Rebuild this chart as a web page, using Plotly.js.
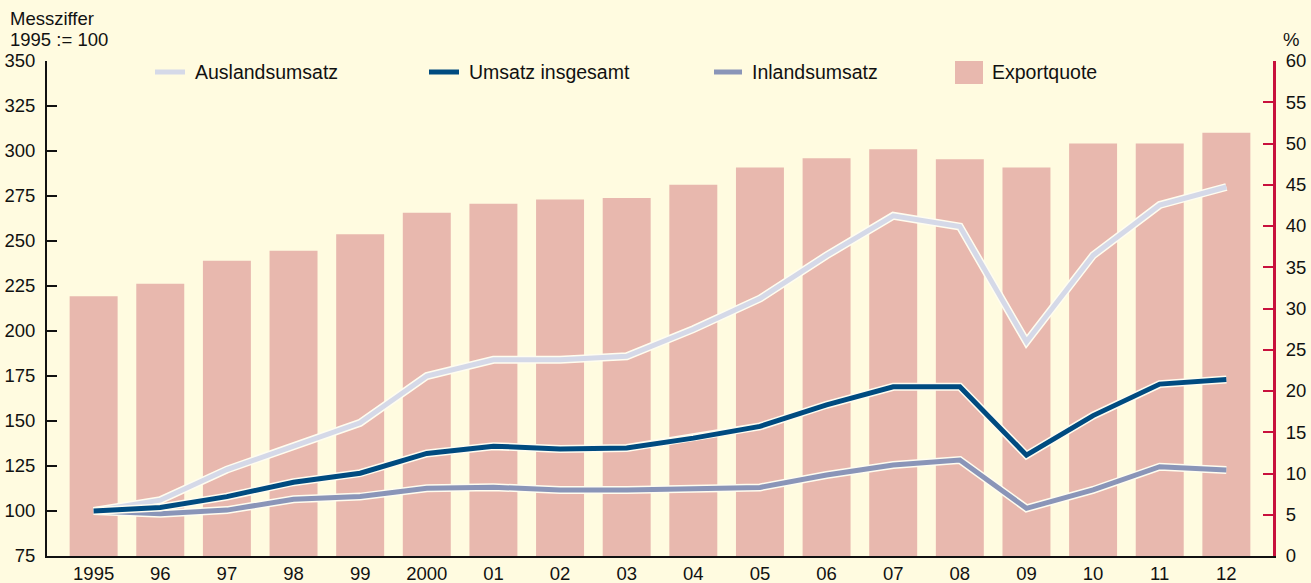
<!DOCTYPE html>
<html>
<head>
<meta charset="utf-8">
<script src="https://cdn.plot.ly/plotly-3.0.1.min.js"></script>
<style>html,body{margin:0;padding:0;background:#fffbe0;}#chart{width:1311px;height:583px;}</style>
</head>
<body>
<div id="chart"></div>
<script>
const years = ['1995','96','97','98','99','2000','01','02','03','04','05','06','07','08','09','10','11','12'];
const exportquote = [31.5,33.0,35.8,37.0,39.0,41.6,42.7,43.2,43.4,45.0,47.1,48.2,49.3,48.1,47.1,50.0,50.0,51.3];
const auslandsumsatz = [100,106,123,136,149,175,184,184,186,201,218,242,264,258,194,242,270,280];
const umsatzInsgesamt = [100,102,108,116,121,132,136,134.5,135,140.5,147,159,169,169,131,153,170.5,173];
const inlandsumsatz = [100,98.5,100.5,106.5,108,112.6,113.2,111.7,111.7,112.6,113.1,120,125.6,128.3,101.5,111.7,124.6,122.8];
const leftTicks = [75,100,125,150,175,200,225,250,275,300,325,350];
const rightTicks = [0,5,10,15,20,25,30,35,40,45,50,55,60];

const BG = '#fffbe0';
const HALO = '#fffdf0';
const C_AUS = '#d5d9e8';
const C_UMS = '#004b80';
const C_INL = '#8a95b8';
const C_BAR = '#e8b8ae';
const C_RED = '#c8103c';

function lineTraces(y, color, name) {
  return [
    {x: years, y: y, type: 'scatter', mode: 'lines', yaxis: 'y2', showlegend: false, hoverinfo: 'skip',
     line: {color: HALO, width: 8}},
    {x: years, y: y, type: 'scatter', mode: 'lines', yaxis: 'y2', name: name, showlegend: false,
     line: {color: color, width: 5}}
  ];
}

const data = [
  {x: years, y: exportquote, type: 'bar', yaxis: 'y', name: 'Exportquote', width: 0.72,
   marker: {color: C_BAR, line: {width: 0}}, showlegend: false},
  ...lineTraces(auslandsumsatz, C_AUS, 'Auslandsumsatz'),
  ...lineTraces(inlandsumsatz, C_INL, 'Inlandsumsatz'),
  ...lineTraces(umsatzInsgesamt, C_UMS, 'Umsatz insgesamt')
];

const L = 47, R = 38, T = 61, B = 27, W = 1311, H = 583;
const PW = W - L - R, PH = H - T - B;
const px = X => (X - L) / PW;
const py = Y => (H - B - Y) / PH;

const FONT = '"Liberation Sans", Arial, Helvetica, sans-serif';

const legendItems = [
  {label: 'Auslandsumsatz', kind: 'line', color: C_AUS, x0: 155, x1: 185, tx: 193},
  {label: 'Umsatz insgesamt', kind: 'line', color: C_UMS, x0: 429, x1: 459, tx: 467},
  {label: 'Inlandsumsatz', kind: 'line', color: C_INL, x0: 714, x1: 742, tx: 750},
  {label: 'Exportquote', kind: 'box', color: C_BAR, x0: 955, x1: 983, tx: 990}
];

const shapes = [];
const annotations = [];
legendItems.forEach(it => {
  if (it.kind === 'line') {
    shapes.push({type: 'line', xref: 'paper', yref: 'paper', x0: px(it.x0), x1: px(it.x1), y0: py(72), y1: py(72),
      line: {color: it.color, width: 5}});
  } else {
    shapes.push({type: 'rect', xref: 'paper', yref: 'paper', x0: px(it.x0), x1: px(it.x1), y0: py(84), y1: py(61),
      fillcolor: it.color, line: {width: 0}});
  }
  annotations.push({xref: 'paper', yref: 'paper', x: px(it.tx), y: py(72), xanchor: 'left', yanchor: 'middle',
    text: it.label, showarrow: false, font: {size: 19.5, color: '#111', family: FONT}});
});
annotations.push({xref: 'paper', yref: 'paper', x: px(8), y: py(19), xanchor: 'left', yanchor: 'middle', align: 'left',
  text: 'Messziffer', showarrow: false, font: {size: 18.5, color: '#111', family: FONT}});
annotations.push({xref: 'paper', yref: 'paper', x: px(8), y: py(40), xanchor: 'left', yanchor: 'middle', align: 'left',
  text: '1995 := 100', showarrow: false, font: {size: 18.5, color: '#111', family: FONT}});
annotations.push({xref: 'paper', yref: 'paper', x: px(1281), y: py(40), xanchor: 'left', yanchor: 'middle',
  text: '%', showarrow: false, font: {size: 18.5, color: '#111', family: FONT}});

const layout = {
  width: W, height: H,
  margin: {l: L, r: R, t: T, b: B, pad: 0},
  paper_bgcolor: BG, plot_bgcolor: BG,
  font: {family: FONT, size: 18, color: '#111'},
  showlegend: false,
  bargap: 0.28,
  xaxis: {type: 'category', range: [-0.7, 17.7], showgrid: false, zeroline: false,
    showline: true, linecolor: '#111', linewidth: 2, ticks: '', tickfont: {size: 18.5}},
  yaxis: {side: 'right', range: [0, 60], tickvals: rightTicks, ticktext: rightTicks.map(String),
    showgrid: false, zeroline: false, showline: true, linecolor: C_RED, linewidth: 3,
    ticks: 'inside', ticklen: 10, tickwidth: 2, tickcolor: C_RED, tickfont: {size: 18.5}, ticklabelstandoff: 6},
  yaxis2: {side: 'left', overlaying: 'y', range: [75, 350], tickvals: leftTicks, ticktext: leftTicks.map(String),
    showgrid: false, zeroline: false, showline: true, linecolor: '#111', linewidth: 2,
    ticks: 'inside', ticklen: 10, tickwidth: 2, tickcolor: '#111', tickfont: {size: 18.5}, ticklabelstandoff: 6},
  shapes: shapes,
  annotations: annotations
};

Plotly.newPlot('chart', data, layout, {displayModeBar: false, staticPlot: true});
</script>
</body>
</html>
